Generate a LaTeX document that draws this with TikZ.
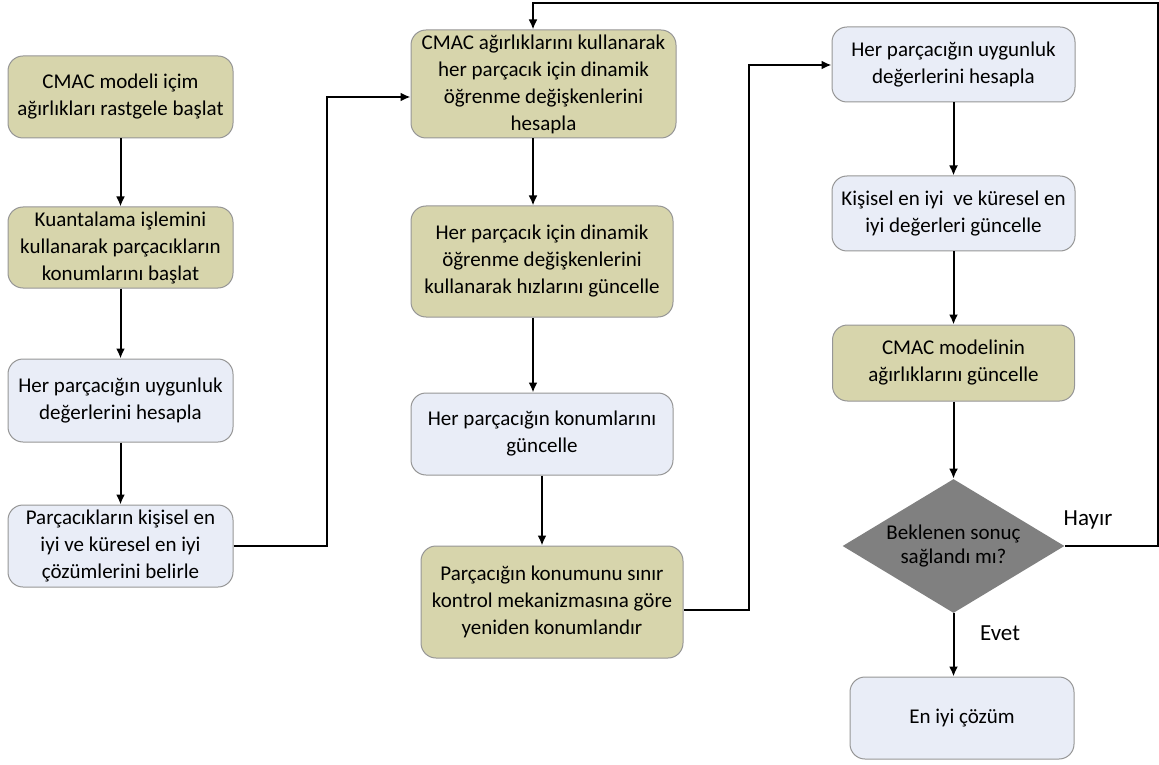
\documentclass[tikz,border=0pt]{standalone}
\usepackage{fontspec}
\setmainfont{Carlito}
\usetikzlibrary{arrows.meta,shapes.geometric}
\definecolor{olivefill}{RGB}{215,213,172}
\definecolor{bluefill}{RGB}{233,237,247}
\definecolor{boxline}{RGB}{150,150,150}
\definecolor{decfill}{RGB}{128,128,128}

\begin{document}
\begin{tikzpicture}[x=0.5pt,y=-0.5pt]
	\tikzstyle{box}=[rectangle,rounded corners=7.5pt,draw=boxline,line width=0.5pt,align=center,inner sep=1pt,font=\fontsize{10.5}{13.5}\selectfont]
	\tikzstyle{olivebox}=[box,fill=olivefill]
	\tikzstyle{bluebox}=[box,fill=bluefill]
	\tikzstyle{decision}=[diamond,fill=decfill,inner sep=0pt,minimum width=111pt,minimum height=67pt]
	\tikzstyle{lbl}=[align=center,font=\fontsize{10.5}{12}\selectfont]
	\tikzstyle{arr}=[-{Latex[length=5pt,width=4.5pt]},line width=1pt]
	\useasboundingbox (0,0) rectangle (1159,764);
	% first column
	\node[olivebox,minimum width=112.5pt,minimum height=41pt] (b1) at (120.5,97) {CMAC modeli içim\\ağırlıkları rastgele başlat};
	\node[olivebox,minimum width=112.5pt,minimum height=40.5pt] (b2) at (120.5,247.5) {Kuantalama işlemini\\kullanarak parçacıkların\\konumlarını başlat};
	\node[bluebox,minimum width=112.5pt,minimum height=41.5pt] (b3) at (120.5,400.5) {Her parçacığın uygunluk\\değerlerini hesapla};
	\node[bluebox,minimum width=112.5pt,minimum height=41pt] (b4) at (120.5,546) {Parçacıkların kişisel en\\iyi ve küresel en iyi\\çözümlerini belirle};
	% second column
	\node[olivebox,minimum width=132.5pt,minimum height=54pt] (b5) at (543.5,84) {CMAC ağırlıklarını kullanarak\\her parçacık için dinamik\\öğrenme değişkenlerini\\hesapla};
	\node[olivebox,minimum width=131pt,minimum height=55.5pt] (b6) at (542,261.5) {Her parçacık için dinamik\\öğrenme değişkenlerini\\kullanarak hızlarını güncelle};
	\node[bluebox,minimum width=131pt,minimum height=41pt] (b7) at (542,434) {Her parçacığın konumlarını\\güncelle};
	\node[olivebox,minimum width=131pt,minimum height=56pt] (b8) at (552,602) {Parçacığın konumunu sınır\\kontrol mekanizmasına göre\\yeniden konumlandır};
	% third column
	\node[bluebox,minimum width=121.5pt,minimum height=37.5pt] (b9) at (953.5,64.5) {Her parçacığın uygunluk\\değerlerini hesapla};
	\node[bluebox,minimum width=121.5pt,minimum height=37.5pt] (b10) at (953.5,213.5) {Kişisel en iyi \ ve küresel en\\iyi değerleri güncelle};
	\node[olivebox,minimum width=121pt,minimum height=38pt] (b11) at (953.5,363) {CMAC modelinin\\ağırlıklarını güncelle};
	\node[decision] (dec) at (953.5,546) {};
	\node[lbl] (dect) at (dec) {Beklenen sonuç\\sağlandı mı?};
	\node[bluebox,minimum width=112pt,minimum height=41pt] (b12) at (962,718) {En iyi çözüm};
	\node[lbl,font=\fontsize{11.5}{12}\selectfont] (hayir) at (1088,520) {Hayır};
	\node[lbl,font=\fontsize{11.5}{12}\selectfont] (evet) at (1000,633) {Evet};
	% bends
	\coordinate (c2) at (533,0);
	\coordinate (j1) at (327,97);
	\coordinate (j2) at (749,65);
	\coordinate (j3) at (1158,3);
	\draw[arr] (b1) -- (b2);
	\draw[arr] (b2) -- (b3);
	\draw[arr] (b3) -- (b4);
	\draw[arr] (b4.east) -| (j1) -- (j1 -| b5.west);
	\draw[arr] (b5.south -| c2) -- (b6.north -| c2);
	\draw[arr] (b6.south -| c2) -- (b7.north -| c2);
	\draw[arr] (b7.south) -- (b7.south |- b8.north);
	\draw[arr] ([yshift=-4pt]b8.east) -| (j2) -- (j2 -| b9.west);
	\draw[arr] (b9) -- (b10);
	\draw[arr] (b10) -- (b11);
	\draw[arr] (b11) -- (dec);
	\draw[arr] (dec.south) -- (dec.south |- b12.north);
	\draw[arr] (dec.east) -| (j3) -| (b5.north -| c2);
\end{tikzpicture}
\end{document}
